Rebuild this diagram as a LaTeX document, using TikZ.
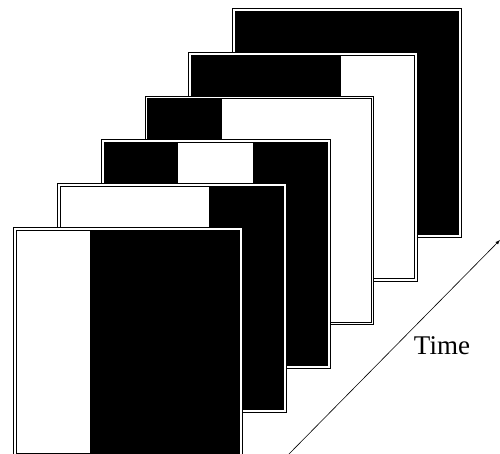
\documentclass[tikz,border=0pt]{standalone}
\usepackage{fontspec}
\setmainfont{Liberation Serif}
\usepackage{tikz}
\usetikzlibrary{arrows}
\tikzset{frameline/.style={draw=black, line width=1pt, double=white, double distance=1.8pt}}

\begin{document}
\begin{tikzpicture}[x=1pt,y=1pt]
    \path[use as bounding box, clip] (0,0) rectangle (500,454);
    % frames, back to front
    \foreach \k/\a/\b/\c in {5/black/black/black, 4/black/black/white,
        3/black/white/white, 2/black/white/black, 1/white/white/black,
        0/white/black/black} {
        \begin{scope}[shift={(15+43.8*\k,-1+43.8*\k)}]
            \fill[\a] (0,0) rectangle (75.33,226);
            \fill[\b] (75.33,0) rectangle (150.67,226);
            \fill[\c] (150.67,0) rectangle (226,226);
            \draw[frameline] (0,0) rectangle (226,226);
        \end{scope}
    }
    \coordinate (tstart) at (288,-1);
    \coordinate (tend) at (500,214);
    \draw[->, >=latex, line width=0.6pt] (tstart) -- (tend);
    \node (time) at (442,108) {\fontsize{27}{30}\selectfont Time};
\end{tikzpicture}
\end{document}
